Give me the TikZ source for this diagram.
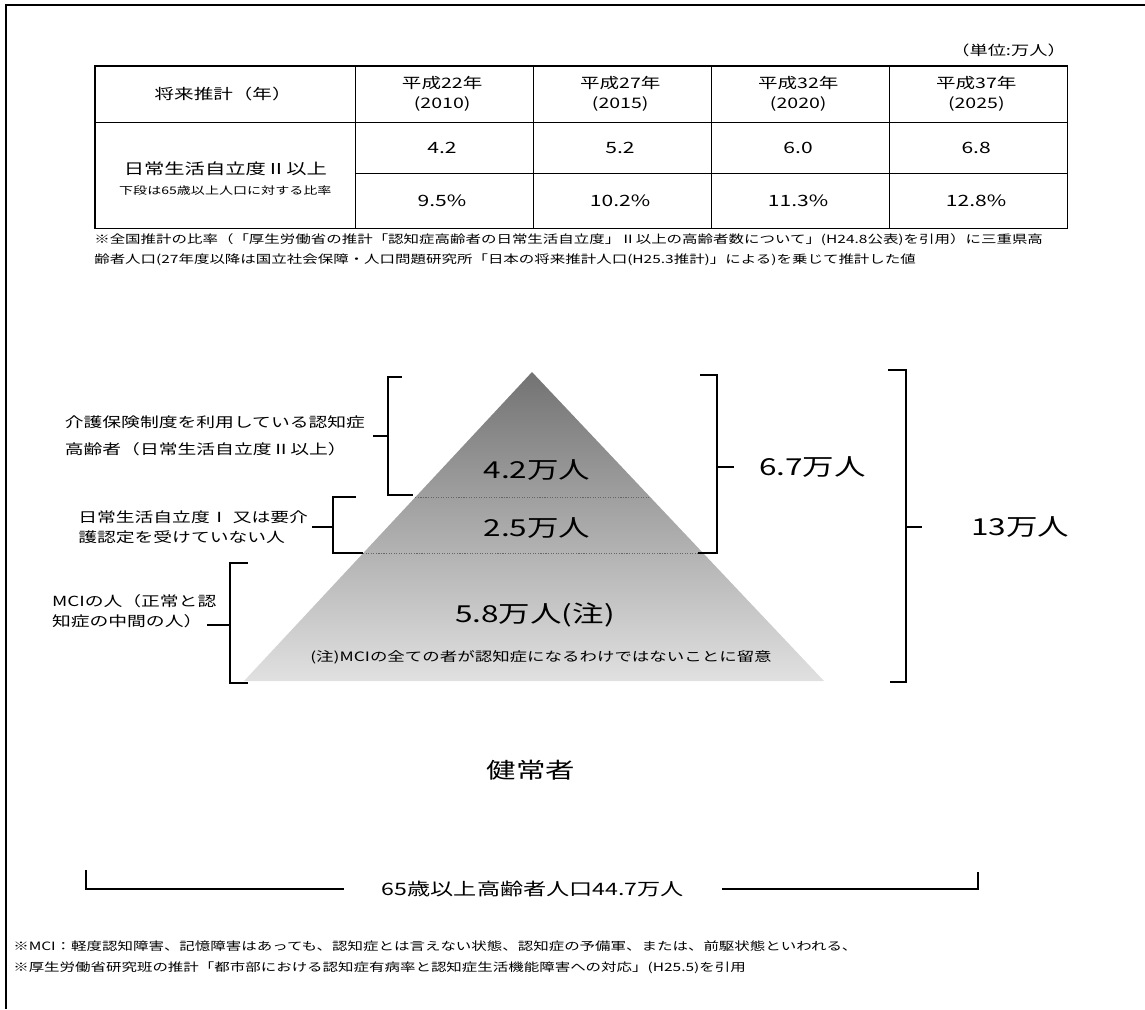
\documentclass[tikz,border=0pt]{standalone}
\usepackage{fontspec}
\setmainfont{Noto Sans CJK JP}[FakeStretch=1.35]
\usetikzlibrary{matrix,positioning,calc}
\newcommand\yearcell[2]{\begin{tabular}{@{}c@{}}#1\\#2\end{tabular}}

\begin{document}
\begin{tikzpicture}[
x=0.025cm,
y=-0.025cm,
tab/.style={
  matrix of nodes,
  inner sep=0pt,
  nodes={
    draw=none,
    inner sep=0pt,
    anchor=center,
    align=center,
    font=\fontsize{11.1}{13}\selectfont
    },
  nodes in empty cells,
  column sep=0pt,
  row sep=0pt,
  column 1/.style={nodes={minimum width=6.5cm}},
  column 2/.style={nodes={minimum width=4.45cm}},
  column 3/.style={nodes={minimum width=4.45cm}},
  column 4/.style={nodes={minimum width=4.45cm}},
  column 5/.style={nodes={minimum width=4.45cm}},
  row 1/.style={nodes={minimum height=1.4cm, font=\fontsize{10.3}{14}\selectfont}},
  row 2/.style={nodes={minimum height=1.275cm}},
  row 3/.style={nodes={minimum height=1.375cm}}
  },
rule/.style={
  line width=0.8pt
  },
brace/.style={
  line width=0.9pt
  },
lbl/.style={
  inner sep=0pt,
  outer sep=0.1cm,
  align=left,
  font=\fontsize{9.9}{14.2}\selectfont
  },
num/.style={
  inner sep=0pt,
  font=\fontsize{16.6}{20}\selectfont
  },
note/.style={
  inner sep=0pt,
  align=left,
  font=\fontsize{8.15}{14.2}\selectfont
  },
tier/.style={
  densely dotted,
  line width=0.8pt,
  black!60
  }
]
\useasboundingbox (0,0) rectangle (1145,1009);
\draw[line width=1pt] (1145,5) -- (6,5) -- (6,1009);

\node[anchor=east, inner sep=0pt, font=\fontsize{9.6}{12}\selectfont] (unit) at (1066,50) {（単位:万人）};

\matrix[tab, anchor=north west] (tab) at (95,66)
{
将来推計（年） & \yearcell{平成22年}{(2010)} & \yearcell{平成27年}{(2015)} & \yearcell{平成32年}{(2020)} & \yearcell{平成37年}{(2025)} \\
 & 4.2 & 5.2 & 6.0 & 6.8 \\
 & 9.5\% & 10.2\% & 11.3\% & 12.8\% \\
};
\draw[rule] (tab.north west) rectangle (tab.south east);
\draw[rule] (tab-1-1.south west) -- (tab-1-5.south east);
\draw[rule] (tab-2-2.south west) -- (tab-2-5.south east);
\foreach \c in {2,...,5}
  \draw[rule] (tab-1-\c.north west) -- (tab-3-\c.south west);

\node[align=center, inner sep=0pt, font=\fontsize{7.4}{14.2}\selectfont] (rowlab)
  at ($(tab-2-1.center)!0.5!(tab-3-1.center)+(0,4)$)
  {{\fontsize{10.7}{14.2}\selectfont 日常生活自立度Ⅱ以上}\\下段は65歳以上人口に対する比率};

\node[note, anchor=west] (tabnote) at (94,250)
  {※全国推計の比率（「厚生労働省の推計「認知症高齢者の日常生活自立度」Ⅱ以上の高齢者数について」(H24.8公表)を引用）に三重県高\\
   齢者人口(27年度以降は国立社会保障・人口問題研究所「日本の将来推計人口(H25.3推計)」による)を乗じて推計した値};

\coordinate (apex) at (532,372);
\coordinate (baseL) at (244,681);
\coordinate (baseR) at (824,681);
\shade[top color=black!55, bottom color=black!12] (apex) -- (baseR) -- (baseL) -- cycle;
\draw[tier] ($(apex)!0.405!(baseL)$) -- ($(apex)!0.405!(baseR)$);
\draw[tier] ($(apex)!0.586!(baseL)$) -- ($(apex)!0.586!(baseR)$);

\node[num] (n42) at (537,470) {4.2万人};
\node[num] (n25) at (537,528) {2.5万人};
\node[num] (n58) at (535,615) {5.8万人(注)};
\node[inner sep=0pt, font=\fontsize{9.2}{12}\selectfont] (mcinote) at (541,657)
  {(注)MCIの全ての者が認知症になるわけではないことに留意};

\coordinate (b1) at (388,436);
\draw[brace] (402,377) -| (b1) |- (413,495);
\node[lbl, anchor=east, outer sep=0.2cm] (lab1) at (373,436)
  {介護保険制度を利用している認知症\\[5pt]高齢者（日常生活自立度Ⅱ以上）};
\draw[brace] (b1) -- (lab1);

\coordinate (b2) at (333,527);
\draw[brace] (356,497) -| (b2) |- (363,553);
\node[lbl, anchor=east] (lab2) at (312,527)
  {日常生活自立度Ⅰ 又は要介\\護認定を受けていない人};
\draw[brace] (b2) -- (lab2);

\coordinate (b3) at (230,625);
\coordinate (t3) at (207,625);
\draw[brace] (248,563) -| (b3) |- (248,683);
\node[lbl, anchor=north west, outer sep=0pt] (lab3) at (52,595)
  {MCIの人（正常と認\\知症の中間の人）};
\draw[brace] (b3) -- (t3);

\coordinate (r1) at (717,467);
\draw[brace] (700,375) -| (r1) |- (698,553);
\node[num, anchor=west, outer sep=0.625cm] (tot67) at (734,467) {6.7万人};
\draw[brace] (r1) -- (tot67);

\coordinate (r2) at (906,527);
\draw[brace] (888,370) -| (r2) |- (890,682);
\node[num, anchor=west, outer sep=1.225cm] (tot13) at (922,527) {13万人};
\draw[brace] (r2) -- (tot13);

\node[inner sep=0pt, font=\fontsize{15.5}{18}\selectfont] (healthy) at (531,770) {健常者};

\node[inner sep=0pt, outer sep=0.95cm, font=\fontsize{12.2}{15}\selectfont] (pop) at (533,889)
  {65歳以上高齢者人口44.7万人};
\coordinate (popL) at (86,870);
\coordinate (popR) at (978,872);
\draw[brace] (popL) |- (pop);
\draw[brace] (popR) |- (pop);

\node[note, anchor=west, font=\fontsize{8.15}{15}\selectfont] (footnote) at (13,957)
  {※MCI：軽度認知障害、記憶障害はあっても、認知症とは言えない状態、認知症の予備軍、または、前駆状態といわれる、\\
   ※厚生労働省研究班の推計「都市部における認知症有病率と認知症生活機能障害への対応」(H25.5)を引用};
\end{tikzpicture}
\end{document}
